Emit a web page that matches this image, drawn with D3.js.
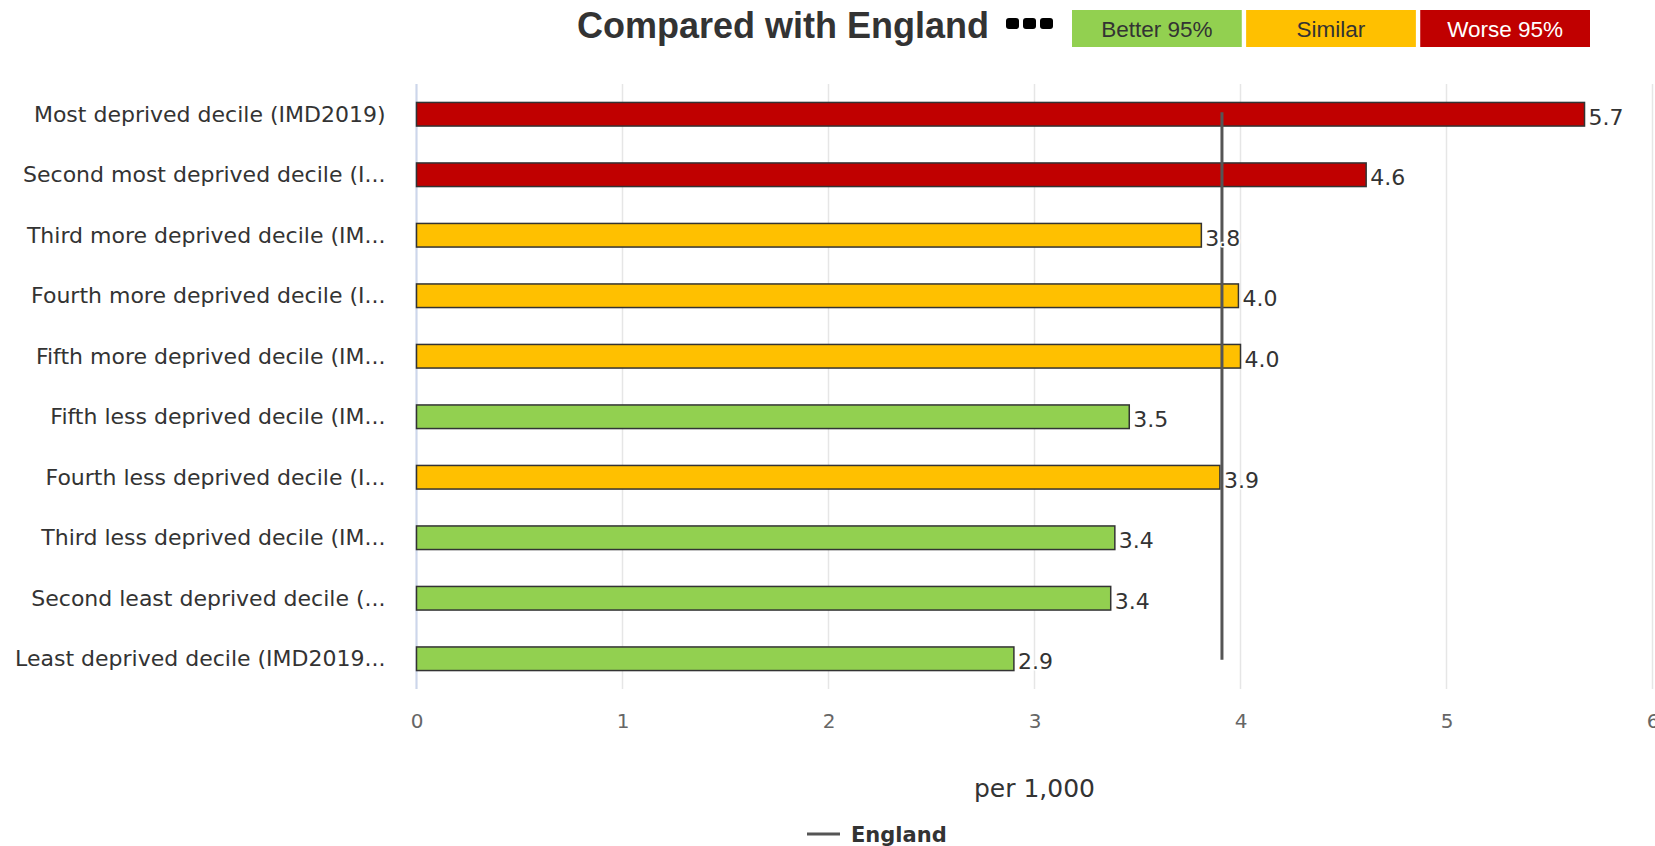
<!DOCTYPE html>
<html>
<head>
<meta charset="utf-8">
<script src="https://cdn.jsdelivr.net/npm/d3@7"></script>
<style>
  html, body { margin: 0; padding: 0; background: #fff; }
  svg { display: block; }
</style>
</head>
<body>
<svg id="chart" width="1655" height="846"></svg>
<script>
// Deprivation deciles, top to bottom
const categories = [
  "Most deprived decile (IMD2019)",
  "Second most deprived decile (I...",
  "Third more deprived decile (IM...",
  "Fourth more deprived decile (I...",
  "Fifth more deprived decile (IM...",
  "Fifth less deprived decile (IM...",
  "Fourth less deprived decile (I...",
  "Third less deprived decile (IM...",
  "Second least deprived decile (...",
  "Least deprived decile (IMD2019..."
];
// Rate per 1,000
const values = [5.67, 4.61, 3.81, 3.99, 4.00, 3.46, 3.90, 3.39, 3.37, 2.90];
// Comparison with the England value
const significance = ["worse", "worse", "similar", "similar", "similar", "better", "similar", "better", "better", "better"];
const englandValue = 3.91;
const xTicks = [0, 1, 2, 3, 4, 5, 6];
const legendKeys = ["better", "similar", "worse"];
const legendLabels = ["Better 95%", "Similar", "Worse 95%"];

const fillFor = { better: "#92d050", similar: "#ffc000", worse: "#c00000" };
const legendText = { better: "#333333", similar: "#333333", worse: "#ffffff" };

const svg = d3.select("#chart");
const plot = { left: 416.5, right: 1652.5, top: 84, bottom: 689 };

const x = d3.scaleLinear().domain([0, 6]).range([plot.left, plot.right]);
const y = d3.scaleBand().domain(categories).range([plot.top, plot.bottom])
  .paddingInner(0.61).paddingOuter(0.305);

// Title and the comparison key
svg.append("text")
  .attr("x", 577).attr("y", 38)
  .attr("font-family", "'Liberation Sans', Arial, sans-serif")
  .attr("font-weight", "bold").attr("font-size", 36)
  .attr("fill", "#333333")
  .text("Compared with England");

const dots = svg.append("g").attr("transform", "translate(1006,18)");
[0, 1, 2].forEach(i => {
  dots.append("rect")
    .attr("x", i * 17).attr("y", 0).attr("width", 13).attr("height", 11)
    .attr("rx", 3).attr("fill", "#000");
});

const keyX = d3.scaleBand().domain(legendKeys).range([1072, 1590]).paddingInner(0.025);
const key = svg.append("g").selectAll("g").data(legendKeys).join("g")
  .attr("transform", d => `translate(${keyX(d)},10)`);
key.append("rect")
  .attr("width", keyX.bandwidth()).attr("height", 37)
  .attr("fill", d => fillFor[d]);
key.append("text")
  .attr("x", keyX.bandwidth() / 2).attr("y", 19).attr("dy", "0.35em")
  .attr("text-anchor", "middle")
  .attr("font-family", "'Liberation Sans', Arial, sans-serif")
  .attr("font-size", 22.5)
  .attr("fill", d => legendText[d])
  .text((d, i) => legendLabels[i]);

// Vertical grid lines
svg.append("g").selectAll("line").data(xTicks).join("line")
  .attr("x1", d => x(d)).attr("x2", d => x(d))
  .attr("y1", plot.top).attr("y2", plot.bottom)
  .attr("stroke", "#e6e6e6").attr("stroke-width", 1.5);

// Category axis line
svg.append("line")
  .attr("x1", plot.left).attr("x2", plot.left)
  .attr("y1", plot.top).attr("y2", plot.bottom)
  .attr("stroke", "#ccd6eb").attr("stroke-width", 2);

// Value axis labels
const xAxis = svg.append("g")
  .attr("transform", `translate(0,${plot.bottom})`)
  .call(d3.axisBottom(x).tickValues(xTicks).tickSize(0).tickPadding(25).tickFormat(d3.format("d")));
xAxis.select(".domain").remove();
xAxis.selectAll("text")
  .attr("font-family", "'DejaVu Sans', Verdana, sans-serif")
  .attr("font-size", 20).attr("fill", "#666666");

// Category labels
const yAxis = svg.append("g")
  .attr("transform", `translate(${plot.left - 31},0)`)
  .call(d3.axisLeft(y).tickSize(0).tickPadding(0));
yAxis.select(".domain").remove();
yAxis.selectAll("text")
  .attr("font-family", "'DejaVu Sans', Verdana, sans-serif")
  .attr("font-size", 22).attr("fill", "#333333")
  .attr("dy", "0.35em");

// Axis title
svg.append("text")
  .attr("x", x(3.0)).attr("y", 797)
  .attr("text-anchor", "middle")
  .attr("font-family", "'DejaVu Sans', Verdana, sans-serif")
  .attr("font-size", 25).attr("fill", "#333333")
  .text("per 1,000");

// Bars
const rows = categories.map((c, i) => ({ c, v: values[i], s: significance[i] }));
svg.append("g").selectAll("rect").data(rows).join("rect")
  .attr("x", x(0))
  .attr("y", d => y(d.c))
  .attr("width", d => x(d.v) - x(0))
  .attr("height", y.bandwidth())
  .attr("fill", d => fillFor[d.s])
  .attr("stroke", "#333333").attr("stroke-width", 1.5);

// England reference line
svg.append("line")
  .attr("x1", x(englandValue)).attr("x2", x(englandValue))
  .attr("y1", y(categories[0]) + y.bandwidth() / 2 - 2)
  .attr("y2", y(categories[categories.length - 1]) + y.bandwidth() / 2 + 1)
  .attr("stroke", "#555555").attr("stroke-width", 3);

// Value labels
svg.append("g").selectAll("text").data(rows).join("text")
  .attr("x", d => x(d.v) + 4)
  .attr("y", d => y(d.c) + y.bandwidth() / 2 + 3)
  .attr("dy", "0.35em")
  .attr("font-family", "'DejaVu Sans', Verdana, sans-serif")
  .attr("font-size", 22).attr("fill", "#333333")
  .attr("stroke", "#ffffff").attr("stroke-width", 3)
  .attr("paint-order", "stroke").attr("stroke-linejoin", "round")
  .text(d => d.v.toFixed(1));

// Series legend
const legend = svg.append("g").attr("transform", "translate(807,834)");
legend.append("line")
  .attr("x1", 0).attr("x2", 33).attr("y1", 0).attr("y2", 0)
  .attr("stroke", "#555555").attr("stroke-width", 3);
legend.append("text")
  .attr("x", 44).attr("y", 8)
  .attr("font-family", "'DejaVu Sans', Verdana, sans-serif")
  .attr("font-weight", "bold").attr("font-size", 21)
  .attr("fill", "#333333")
  .text("England");
</script>
</body>
</html>
